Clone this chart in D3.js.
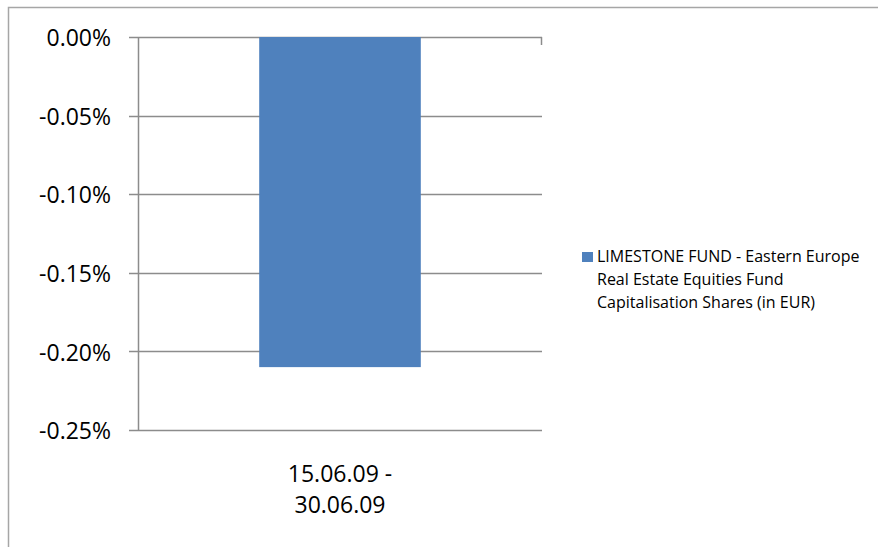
<!DOCTYPE html>
<html>
<head>
<meta charset="utf-8">
<script src="https://cdn.jsdelivr.net/npm/d3@7"></script>
<style>
  body { margin: 0; background: #fff; }
  text { font-family: "Open Sans", "Liberation Sans", sans-serif; fill: #000; }
</style>
</head>
<body>
<div id="chart"></div>
<script>
// chart data
const categories = ["15.06.09 - 30.06.09"];
const values = [-0.0021];
const seriesName = "LIMESTONE FUND - Eastern Europe Real Estate Equities Fund Capitalisation Shares (in EUR)";
const tickValues = [0, -0.0005, -0.001, -0.0015, -0.002, -0.0025];

const width = 878;
const height = 547;
const margin = { top: 37, left: 138, right: 336, bottom: 117 };

const svg = d3.select("#chart")
    .append("svg")
    .attr("width", width)
    .attr("height", height)

// outer chart border (cut off at right and bottom)
svg.append("rect")
    .attr("x", 8.5).attr("y", 7.5)
    .attr("width", 900).attr("height", 600)
    .attr("fill", "none")
    .attr("stroke", "#a6a6a6")
    .attr("stroke-width", 1.5)

const x = d3.scaleBand()
    .domain(categories)
    .range([margin.left, width - margin.right])
    .paddingInner(0.6)
    .paddingOuter(0.3)

const y = d3.scaleLinear()
    .domain([-0.0025, 0])
    .range([height - margin.bottom, margin.top])

// gridlines
svg.append("g")
    .selectAll("line")
    .data(tickValues)
    .join("line")
    .attr("x1", margin.left - 9)
    .attr("x2", width - margin.right)
    .attr("y1", d => Math.round(y(d)) + 0.5)
    .attr("y2", d => Math.round(y(d)) + 0.5)
    .attr("stroke", "#8c8c8c")
    .attr("stroke-width", 1.5)

// value axis line
svg.append("line")
    .attr("x1", margin.left + 0.5).attr("x2", margin.left + 0.5)
    .attr("y1", y(0)).attr("y2", y(-0.0025))
    .attr("stroke", "#8c8c8c")
    .attr("stroke-width", 1.5)

// category axis tick at right end
svg.append("line")
    .attr("x1", width - margin.right - 0.5).attr("x2", width - margin.right - 0.5)
    .attr("y1", y(0)).attr("y2", y(0) + 8)
    .attr("stroke", "#8c8c8c")
    .attr("stroke-width", 1.5)

// y tick labels (plain hyphen as minus, like the original)
const fmt = d => d3.format(".2%")(d).replace("\u2212", "-");
svg.append("g")
    .selectAll("text")
    .data(tickValues)
    .join("text")
    .attr("x", 111)
    .attr("y", d => y(d))
    .attr("dy", "0.4em")
    .attr("text-anchor", "end")
    .style("font-size", "23px")
    .text(d => fmt(d))

// bars
svg.append("g")
    .selectAll("rect")
    .data(values)
    .join("rect")
    .attr("x", (d, i) => x(categories[i]))
    .attr("y", d => y(0))
    .attr("width", x.bandwidth())
    .attr("height", d => y(d) - y(0))
    .attr("fill", "#4f81bd")

// category label, wrapped in two lines
const catLabel = svg.append("text")
    .attr("text-anchor", "middle")
    .style("font-size", "23px")
categories[0].split(" - ").forEach((part, i, arr) => {
    catLabel.append("tspan")
        .attr("x", x(categories[0]) + x.bandwidth() / 2)
        .attr("y", 482 + i * 31)
        .text(i < arr.length - 1 ? part + " -" : part)
})

// legend
svg.append("rect")
    .attr("x", 582).attr("y", 252)
    .attr("width", 11).attr("height", 10)
    .attr("fill", "#4f81bd")

const legendLines = ["LIMESTONE FUND - Eastern Europe", "Real Estate Equities Fund", "Capitalisation Shares (in EUR)"];
svg.append("g")
    .selectAll("text")
    .data(legendLines)
    .join("text")
    .attr("x", 597)
    .attr("y", (d, i) => 262 + i * 23)
    .style("font-size", "16px")
    .text(d => d)
</script>
</body>
</html>
